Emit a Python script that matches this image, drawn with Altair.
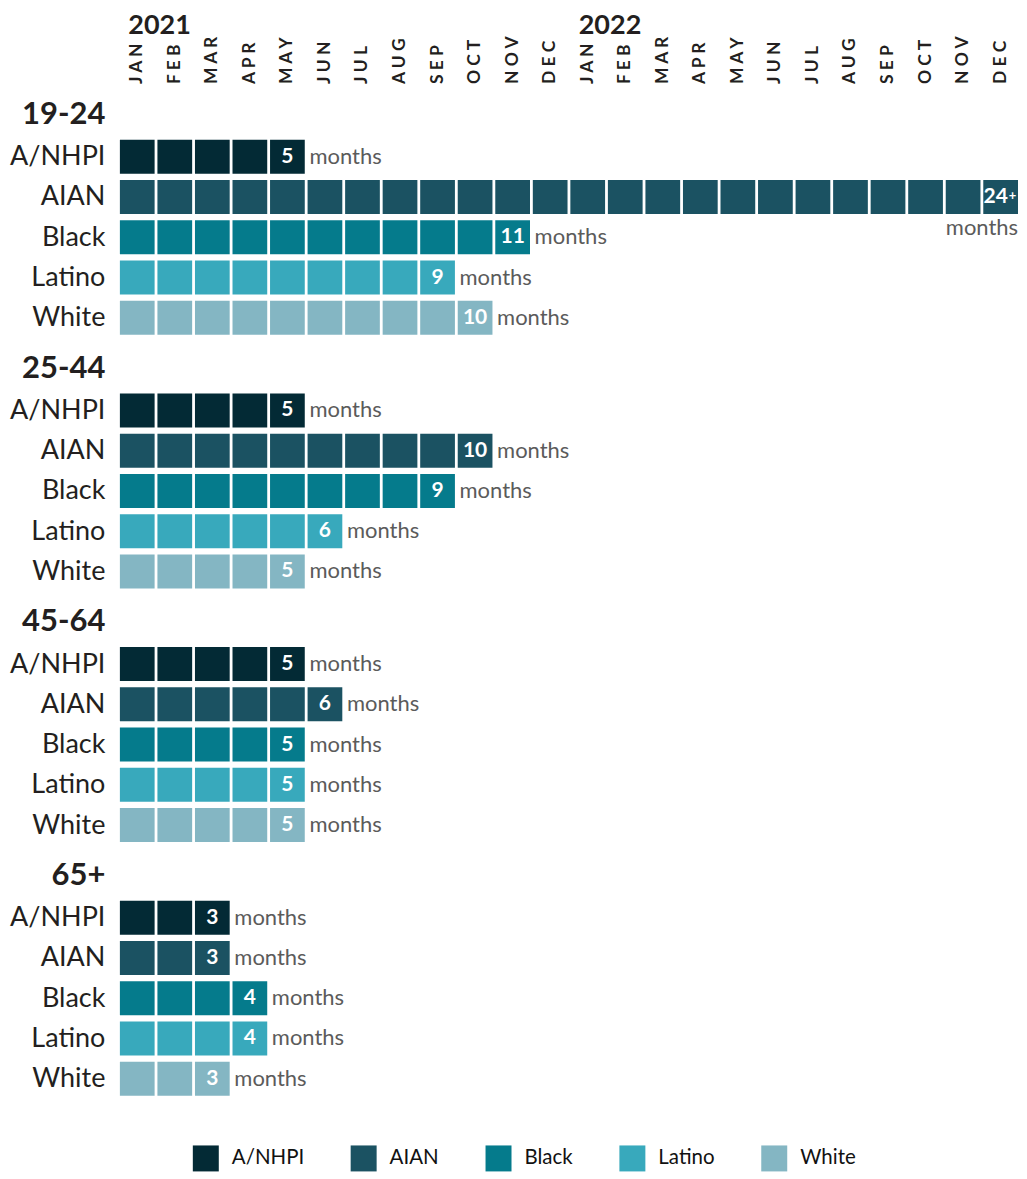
import altair as alt
import pandas as pd

# ---------------- data ----------------
groups = ["19-24", "25-44", "45-64", "65+"]
races = ["A/NHPI", "AIAN", "Black", "Latino", "White"]
colors = ["#032a35", "#1b5262", "#057b8c", "#38a9bc", "#84b6c3"]
years = ["2021", "2022"]
month_abbr = ["JAN", "FEB", "MAR", "APR", "MAY", "JUN",
              "JUL", "AUG", "SEP", "OCT", "NOV", "DEC"]

# months of coverage per race, for each age group (order = races)
months_19_24 = [5, 24, 11, 9, 10]
months_25_44 = [5, 10, 9, 6, 5]
months_45_64 = [5, 6, 5, 5, 5]
months_65 = [3, 3, 4, 4, 3]
durations = [months_19_24, months_25_44, months_45_64, months_65]
capped = 24  # shown as "24+"

# ---------------- layout helpers (row units) ----------------
GROUP_STEP = 6.3
HALF = 0.422
YEAR_ROW = -2.246
month_keys = [f"{y}-{m}" for y in years for m in month_abbr]


def row_pos(g, r):
    return g * GROUP_STEP + r + 1


header_pos = [g * GROUP_STEP - 0.05 for g in range(len(groups))]

cells, labels = [], []
for g, grp in enumerate(groups):
    for r, race in enumerate(races):
        d = durations[g][r]
        p = row_pos(g, r)
        for m in range(d):
            cells.append({"key": month_keys[m], "y1": p - HALF, "y2": p + HALF,
                          "race": race})
        labels.append({"key": month_keys[d - 1], "pos": p,
                       "num": str(d), "capped": d >= capped})
cells_df = pd.DataFrame(cells)
labels_df = pd.DataFrame(labels)
years_df = pd.DataFrame({"key": [f"{y}-JAN" for y in years], "year": years,
                         "pos": [YEAR_ROW] * len(years)})

# y axis labels from lists
tick_vals, tick_text = [], []
for g, grp in enumerate(groups):
    tick_vals.append(round(header_pos[g], 4))
    tick_text.append(grp)
    for r, race in enumerate(races):
        tick_vals.append(round(row_pos(g, r), 4))
        tick_text.append(race)
expr = "''"
for v, t in zip(reversed(tick_vals), reversed(tick_text)):
    expr = f"abs(datum.value - {v}) < 0.01 ? '{t}' : ({expr})"
head_test = " || ".join(f"abs(datum.value - {round(v, 4)}) < 0.01" for v in header_pos)

FONT = "Lato"
Y_DOMAIN = [-0.571, 24.44]

x_enc = alt.X("key:N", sort=month_keys,
              scale=alt.Scale(domain=month_keys, paddingInner=0.075, paddingOuter=0),
              axis=alt.Axis(orient="top", title=None, labelAngle=270, labelAlign="left",
                            labelBaseline="middle", labelFont=FONT, labelFontWeight="bold",
                            labelFontSize=17.5, labelColor="#231f20", labelPadding=10,
                            ticks=False, domain=False, grid=False,
                            labelExpr="join(split(substring(datum.value, 5), ''), ' ')"))

y_scale = alt.Scale(domain=Y_DOMAIN, reverse=True, nice=False, zero=False)

bars = alt.Chart(cells_df).mark_rect().encode(
    x=x_enc,
    y=alt.Y("y1:Q", scale=y_scale,
            axis=alt.Axis(title=None, values=tick_vals, labelExpr=expr,
                          labelFont=FONT, labelColor="#231f20",
                          labelFontSize={"condition": {"test": head_test, "value": 31}, "value": 27},
                          labelFontWeight={"condition": {"test": head_test, "value": "bold"}, "value": "normal"},
                          labelAlign="right", labelBaseline="middle", labelPadding=15,
                          labelOverlap=False, labelFlush=False, ticks=False,
                          domain=False, grid=False)),
    y2="y2:Q",
    color=alt.Color("race:N", scale=alt.Scale(domain=races, range=colors),
                    legend=alt.Legend(title=None, orient="none", direction="horizontal",
                                      legendX=73, legendY=1053,
                                      symbolType="square", symbolSize=676,
                                      symbolStrokeWidth=0, symbolOpacity=1,
                                      labelFont=FONT, labelFontSize=20.5,
                                      labelColor="#111111", labelOffset=13,
                                      columnPadding=46, padding=0)),
)

base_lab = alt.Chart(labels_df).encode(
    x=alt.X("key:N", sort=month_keys, scale=alt.Scale(domain=month_keys)),
    y=alt.Y("pos:Q", scale=y_scale),
)

nums = base_lab.transform_filter("!datum.capped").mark_text(
    font=FONT, fontWeight="bold", fontSize=21, color="white", baseline="middle"
).encode(text="num:N")

nums_cap = base_lab.transform_filter("datum.capped").mark_text(
    font=FONT, fontWeight="bold", fontSize=21, color="white", baseline="middle", dx=-5
).encode(text="num:N")

plus_cap = base_lab.transform_filter("datum.capped").mark_text(
    font=FONT, fontWeight="bold", fontSize=13, color="white", baseline="middle", dx=12, dy=-1
).encode(text=alt.value("+"))

months_txt = base_lab.transform_filter("!datum.capped").mark_text(
    font=FONT, fontSize=22, color="#5b5b5b", align="left", baseline="middle", dx=22
).encode(text=alt.value("months"))

months_cap = base_lab.transform_filter("datum.capped").mark_text(
    font=FONT, fontSize=22, color="#5b5b5b", align="right", baseline="middle", dx=17.5, dy=31
).encode(text=alt.value("months"))

year_txt = alt.Chart(years_df).mark_text(
    font=FONT, fontWeight="bold", fontSize=27, color="#231f20", align="left",
    baseline="middle", dx=-9
).encode(
    x=alt.X("key:N", sort=month_keys, scale=alt.Scale(domain=month_keys)),
    y=alt.Y("pos:Q", scale=y_scale),
    text="year:N",
)

chart = alt.layer(bars, nums, nums_cap, plus_cap, months_txt, months_cap, year_txt).properties(
    width=899, height=1008, padding={"left": 1, "top": 3, "right": 0, "bottom": 0},
    background="white",
).configure_view(stroke=None)

chart.save("out.html", embed_options={"renderer": "svg", "actions": False})
